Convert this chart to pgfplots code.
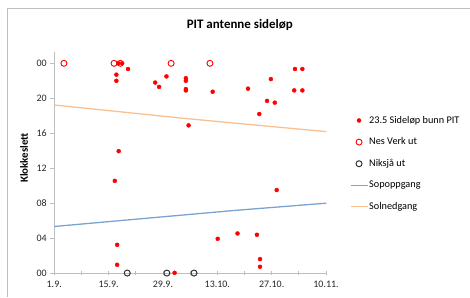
\documentclass[border=0pt]{standalone}
\usepackage{pgfplots}
\pgfplotsset{compat=1.18}
\usepackage{fontspec}
\setmainfont{Carlito}
\definecolor{sunrise}{RGB}{124,162,212}
\definecolor{sunset}{RGB}{250,192,143}
\definecolor{axgray}{RGB}{190,190,190}
\begin{document}
\begin{tikzpicture}
\path (0,0) rectangle (470bp,297bp);
\draw[axgray, line width=0.8bp] (7bp,0) -- (7bp,289bp) -- (470bp,289bp);
\node[font=\bfseries\fontsize{13}{15}\selectfont] at (240bp,272bp) {PIT antenne sideløp};
\node[rotate=90, font=\bfseries\fontsize{11}{13}\selectfont] at (24bp,139bp) {Klokkeslett};
\begin{axis}[
  at={(54.3bp,23.7bp)}, anchor=south west,
  scale only axis, width=272.4bp, height=221.3bp,
  xmin=0, xmax=70.1, ymin=0, ymax=25.3,
  clip=false,
  axis x line*=bottom, axis y line*=left,
  axis line style={axgray, line width=0.8bp},
  xtick={0,7,...,70},
  xticklabels={1.9.,,15.9.,,29.9.,,13.10.,,27.10.,,10.11.},
  ytick={0,4,8,12,16,20,24},
  yticklabels={00,04,08,12,16,20,00},
  x tick style={axgray, line width=0.8bp},
  y tick style={axgray, line width=0.8bp},
  major tick length=4bp,
  xtick align=center, ytick align=outside,
  tick label style={font=\fontsize{10}{12}\selectfont, text=black!85},
  xticklabel style={yshift=-2bp},
  /pgf/number format/assume math mode=true,
  legend style={at={(1.0855,0.715)}, anchor=north west, draw=none, fill=none,
    font=\fontsize{10.3}{12}\selectfont, row sep=11bp, inner sep=0pt,
    nodes={inner sep=1bp}},
  legend cell align=left,
]
\addplot[only marks, mark=*, mark size=2bp, red, mark options={draw=red, fill=red}] coordinates {
(16.5,24)(17.5,24)(16,22.7)(16,22.0)(19,23.35)(26,21.8)(27,21.3)(28.9,22.5)
(33.9,22.3)(33.9,22.0)(33.9,21.05)(33.9,20.9)(34.6,16.9)(40.8,20.75)(49.9,21.1)
(55.8,22.2)(54.8,19.7)(56.8,19.5)(52.8,18.2)(62,23.35)(63.9,23.35)(61.8,20.9)
(63.9,20.9)(16.6,13.95)(15.6,10.55)(57.3,9.5)(16.2,3.23)(16.2,0.95)(31,0.03)
(42.1,3.92)(47.2,4.53)(52.2,4.38)(53,1.6)(53,0.72)};
\addlegendentry{23.5 Sideløp bunn PIT}
\addplot[only marks, mark=o, mark size=3bp, red, mark options={line width=0.9bp, draw=red}] coordinates {
(2.5,24)(15.4,24)(17.0,24)(30.1,24)(40.1,24)};
\addlegendentry{Nes Verk ut}
\addplot[only marks, mark=o, mark size=3bp, black!80, mark options={line width=1bp, draw=black!80}] coordinates {
(18.8,0)(29,0)(36,0)};
\addlegendentry{Niksjå ut}
\addplot[color=sunrise, line width=1.3bp, no marks] coordinates {(0,5.33)(46,7.15)(70.1,8.0)};
\addlegendentry{Sopoppgang}
\addplot[color=sunset, line width=1.3bp, no marks] coordinates {(0,19.23)(33,17.72)(70.1,16.18)};
\addlegendentry{Solnedgang}
\end{axis}
\end{tikzpicture}
\end{document}
